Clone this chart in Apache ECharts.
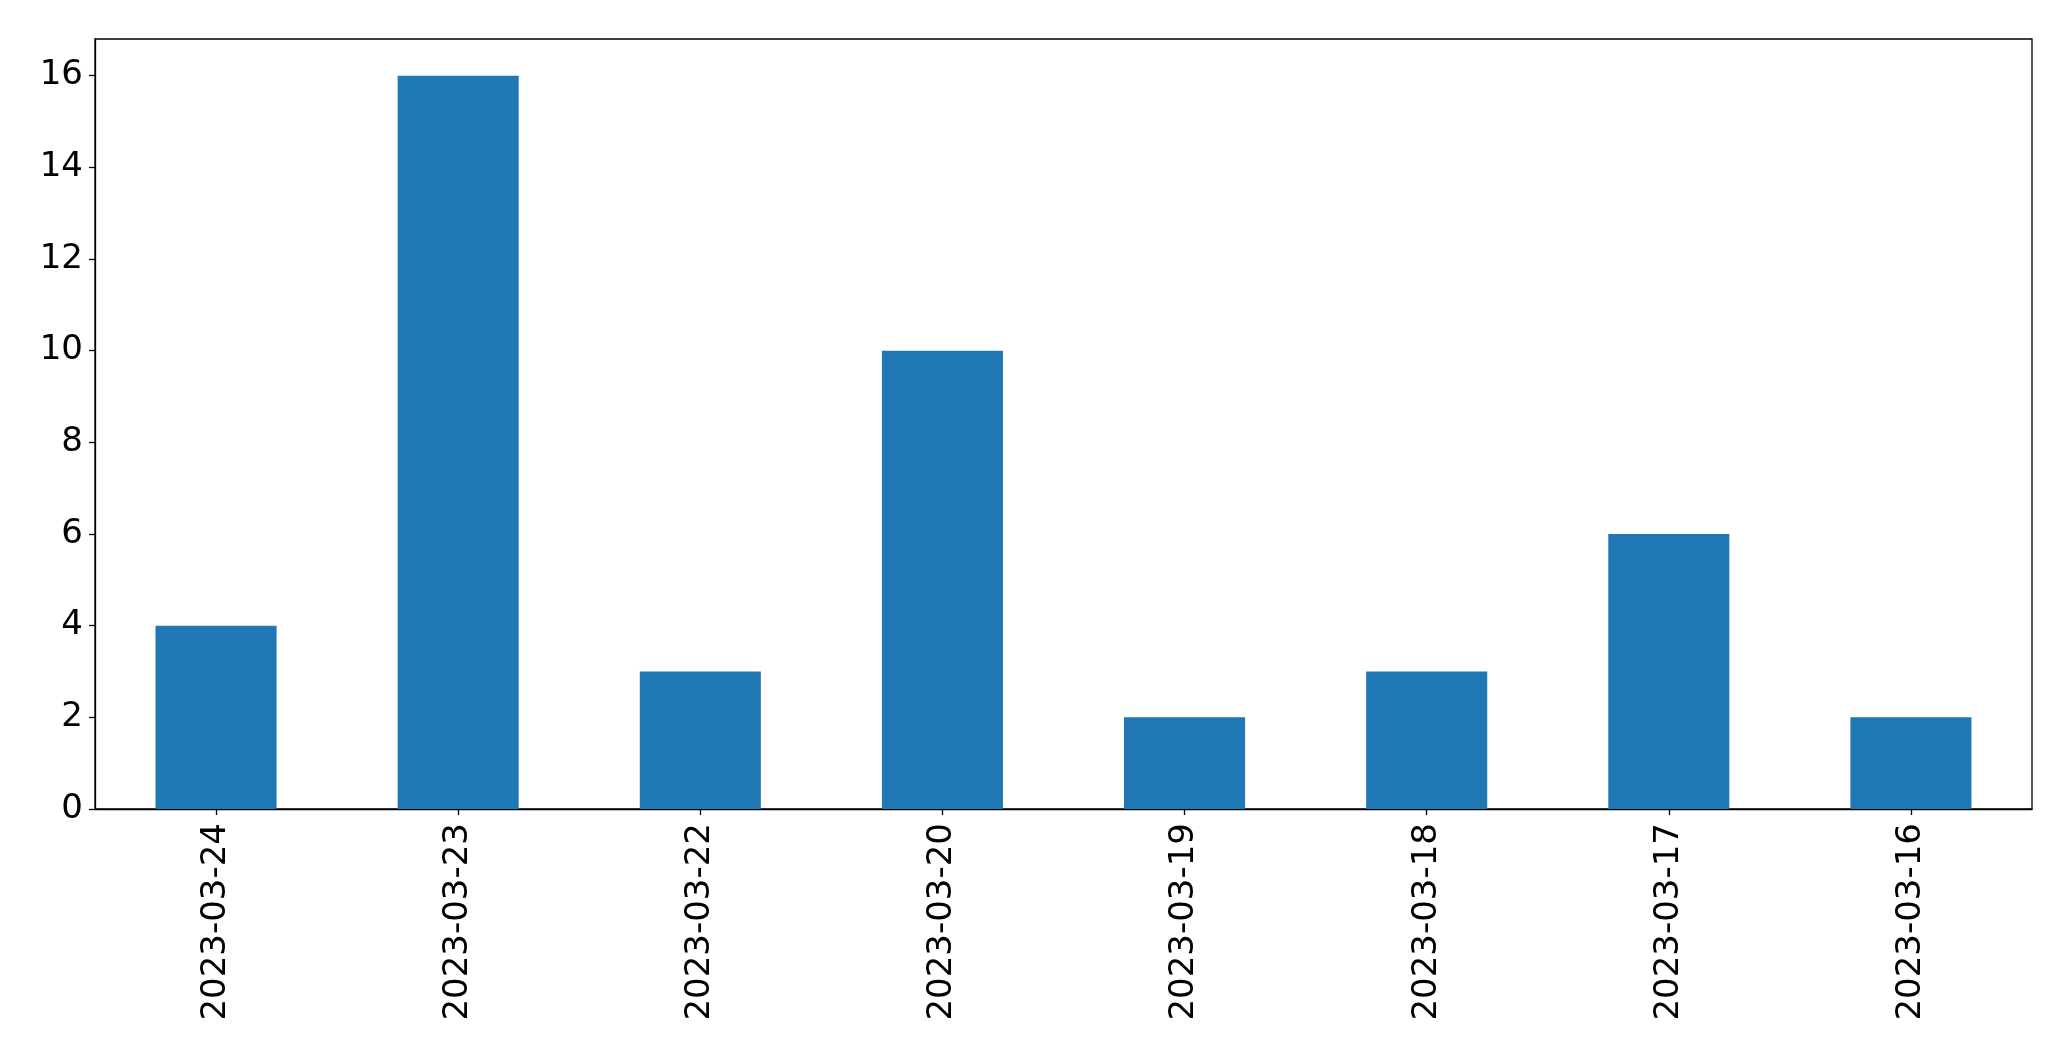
<!DOCTYPE html>
<html>
<head>
<meta charset="utf-8">
<script src="https://cdn.jsdelivr.net/npm/echarts@6/dist/echarts.min.js"></script>
<style>
html,body{margin:0;padding:0;background:#fff;}
#chart{width:2071px;height:1061px;}
</style>
</head>
<body>
<div id="chart"></div>
<script>
const categories = ["2023-03-24","2023-03-23","2023-03-22","2023-03-20","2023-03-19","2023-03-18","2023-03-17","2023-03-16"];
const values = [4,16,3,10,2,3,6,2];
const yTicks = [0,2,4,6,8,10,12,14,16];

const chart = echarts.init(document.getElementById('chart'), null, {renderer:'canvas'});
const font = 'DejaVu Sans';
chart.setOption({
  animation:false,
  backgroundColor:'#fff',
  grid:{left:95, top:39, right:39, bottom:252, show:true, borderColor:'#000', borderWidth:1.3, backgroundColor:'transparent'},
  xAxis:{
    type:'category',
    data:categories,
    axisLine:{show:true, lineStyle:{color:'#000', width:1.3}},
    axisTick:{show:true, alignWithLabel:true, length:6, lineStyle:{color:'#000', width:1.3}},
    axisLabel:{rotate:90, color:'#000', fontFamily:font, fontSize:34, margin:14, interval:0},
    splitLine:{show:false}
  },
  yAxis:{
    type:'value',
    min:0, max:16.8,
    axisLine:{show:true, lineStyle:{color:'#000', width:1.3}},
    axisTick:{show:true, length:6, lineStyle:{color:'#000', width:1.3}, customValues:yTicks},
    axisLabel:{color:'#000', fontFamily:font, fontSize:34, margin:12, customValues:yTicks},
    splitLine:{show:false}
  },
  series:[{
    type:'bar',
    data:values,
    barWidth:'50%',
    itemStyle:{color:'#1f77b4'}
  }]
});
</script>
</body>
</html>
